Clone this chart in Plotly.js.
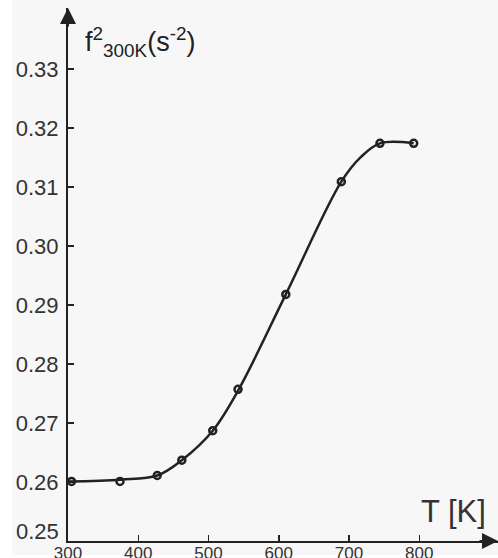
<!DOCTYPE html>
<html>
<head>
<meta charset="utf-8">
<script src="https://cdn.plot.ly/plotly-3.0.1.min.js"></script>
<style>
  html, body { margin: 0; padding: 0; background: #ffffff; }
  #chart { width: 498px; height: 558px; }
</style>
</head>
<body>
<div id="chart"></div>
<script>
// Measured points (T in K, f^2 at 300K in s^-2)
var pointT = [305, 374, 427, 462, 506, 542, 610, 689, 744, 792];
var pointF = [0.2601, 0.2601, 0.2611, 0.2637, 0.2687, 0.2757, 0.2918, 0.3109, 0.3174, 0.3174];

// Fitted smooth curve
var curveT = [300, 375, 427, 462, 506, 543, 610, 689, 717, 744, 792];
var curveF = [0.2601, 0.2604, 0.2611, 0.2637, 0.2687, 0.2757, 0.2918, 0.3109, 0.3151, 0.3174, 0.3174];

var xTicks = [300, 400, 500, 600, 700, 800];
var yTicks = [0.26, 0.27, 0.28, 0.29, 0.30, 0.31, 0.32, 0.33];
var yTickText = ['0.26', '0.27', '0.28', '0.29', '0.30', '0.31', '0.32', '0.33'];
var yOriginLabel = '0.25';

var ink = '#222222';
var labelInk = '#333333';
var FONT = '"Liberation Sans", Arial, sans-serif';

var traces = [
  {
    x: curveT, y: curveF, type: 'scatter', mode: 'lines',
    line: { color: ink, width: 2.5, shape: 'spline', smoothing: 1 },
    hoverinfo: 'skip', showlegend: false
  },
  {
    x: pointT, y: pointF, type: 'scatter', mode: 'markers',
    marker: { symbol: 'circle-open', size: 7, color: ink, line: { color: ink, width: 2.5 } },
    showlegend: false
  }
];

var layout = {
  width: 498, height: 558,
  margin: { l: 68, r: 0, t: 8, b: 17, pad: 0 },
  paper_bgcolor: '#f7f7f7',
  plot_bgcolor: '#f7f7f7',
  font: { family: FONT, color: labelInk },
  showlegend: false,
  xaxis: {
    range: [300, 912],
    tickvals: xTicks,
    ticktext: xTicks.map(String),
    ticks: 'inside', ticklen: 6, tickwidth: 1.5, tickcolor: ink,
    showline: true, linecolor: ink, linewidth: 2,
    showgrid: false, zeroline: false,
    ticklabelstandoff: -4,
    tickfont: { family: FONT, size: 17, color: labelInk }
  },
  yaxis: {
    range: [0.25, 0.34034],
    tickvals: yTicks,
    ticktext: yTickText,
    ticks: 'inside', ticklen: 6, tickwidth: 1.5, tickcolor: ink,
    showline: true, linecolor: ink, linewidth: 2,
    showgrid: false, zeroline: false,
    ticklabelstandoff: 3,
    tickfont: { family: FONT, size: 22, color: labelInk }
  },
  shapes: [
    { type: 'rect', xref: 'paper', yref: 'paper', x0: -0.2, x1: -0.1302, y0: -0.1, y1: 1.1,
      fillcolor: '#ffffff', line: { width: 0 }, layer: 'below' },
    { type: 'rect', xref: 'paper', yref: 'paper', x0: -0.2, x1: 1.1, y0: -0.1, y1: -0.0263,
      fillcolor: '#ffffff', line: { width: 0 }, layer: 'below' }
  ],
  annotations: [
    { // y-axis arrowhead
      x: 300, y: 0.34034, xref: 'x', yref: 'y', text: '',
      showarrow: true, arrowhead: 2, arrowsize: 1.6, arrowwidth: 2, arrowcolor: ink,
      ax: 0, ay: 20
    },
    { // x-axis arrowhead
      x: 912, y: 0.25, xref: 'x', yref: 'y', text: '',
      showarrow: true, arrowhead: 2, arrowsize: 1.6, arrowwidth: 2, arrowcolor: ink,
      ax: -20, ay: 0
    },
    { // origin label of the y axis, sitting just above the x axis
      xref: 'paper', yref: 'paper', x: -7 / 430, y: 10 / 533, xanchor: 'right', yanchor: 'middle',
      text: yOriginLabel, showarrow: false,
      font: { family: FONT, size: 22, color: labelInk }
    },
    {
      xref: 'paper', yref: 'paper', x: 0.035, y: 0.936, xanchor: 'left', yanchor: 'middle',
      text: 'f<sup>2</sup><sub>300K</sub>(s<sup>-2</sup>)', showarrow: false,
      font: { family: FONT, size: 27, color: ink }
    },
    {
      xref: 'paper', yref: 'paper', x: 0.976, y: (541 - 511) / 533, xanchor: 'right', yanchor: 'middle',
      text: 'T [K]', showarrow: false,
      font: { family: FONT, size: 31, color: labelInk }
    }
  ]
};

Plotly.newPlot('chart', traces, layout, { displayModeBar: false, staticPlot: true });
</script>
</body>
</html>
